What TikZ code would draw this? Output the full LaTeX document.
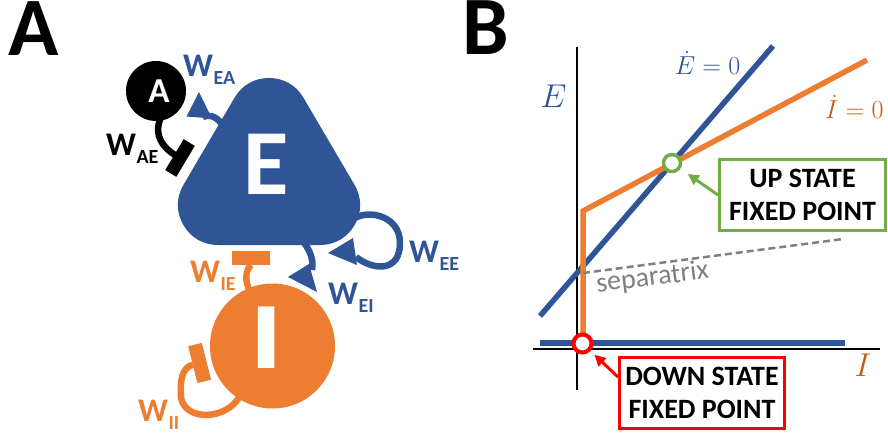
\RequirePackage{fix-cm}
\documentclass[tikz,border=0pt]{standalone}
\usepackage[no-math]{fontspec}
\setmainfont{Carlito}
\usetikzlibrary{arrows.meta}
\definecolor{eblue}{HTML}{2F5597}
\definecolor{iorange}{HTML}{ED7D31}
\definecolor{itext}{HTML}{C55A11}
\definecolor{upgreen}{HTML}{70AD47}
\definecolor{sepgray}{HTML}{7F7F7F}
\pgfdeclarelayer{back}
\pgfsetlayers{back,main}
% weight label: W with a lowered subscript
\newcommand\wlabel[1]{{\fontsize{33}{33}\selectfont W}\kern0.5pt\raisebox{-8pt}{\fontsize{20}{20}\selectfont #1}}
\begin{document}
\begin{tikzpicture}[x=1pt,y=-1pt,
  conn/.style={line width=6.5pt},
  wtag/.style={anchor=base west, inner sep=0pt, font=\bfseries},
  panel/.style={anchor=base west, inner sep=0pt, font=\fontsize{83}{83}\selectfont\bfseries},
  cellname/.style={inner sep=0pt, text=white},
  axisline/.style={line width=1.6pt},
  nullcline/.style={line width=5.5pt},
  fixpt/.style={circle, draw, fill=white, inner sep=0pt},
  fpbox/.style={draw, line width=3pt, fill=white, align=center, inner sep=0pt,
    font=\fontsize{28}{33}\selectfont\bfseries},
  pointer/.style={line width=3pt, -{Triangle[length=11pt,width=11pt]}}
]
\useasboundingbox (0,0) rectangle (888,436);

% ---------------- panel A ----------------
\node[panel] (labA) at (8,56) {A};

% excitatory population: rounded triangle
\filldraw[eblue, line width=80pt, line join=round] (218,205) -- (269,118) -- (320,205) -- cycle;
\coordinate (E) at (269,168);
\node[cellname, font=\fontsize{93}{93}\selectfont\bfseries] (Etxt) at (266,164.5) {E};

% input population A and inhibitory population I
\node[circle, fill=black, minimum size=60pt, inner sep=0pt] (A) at (156,91) {};
\node[cellname, font=\fontsize{35}{35}\selectfont\bfseries] (Atxt) at (159,91) {A};
\node[circle, fill=iorange, minimum size=125pt, inner sep=0pt] (I) at (272.5,346) {};
\node[cellname, font=\fontsize{95}{95}\selectfont\bfseries] (Itxt) at (267,338) {\scalebox{1.35}[1]{I}};

% weight labels
\node[wtag, text=eblue] (wea) at (183,76) {\wlabel{EA}};
\node[wtag] (wae) at (106,155) {\wlabel{AE}};
\node[wtag, text=eblue] (wee) at (409,262) {\wlabel{EE}};
\node[wtag, text=eblue] (wei) at (328,304) {\wlabel{EI}};
\node[wtag, text=iorange] (wie) at (190,282) {\wlabel{IE}};
\node[wtag, text=iorange] (wii) at (138,421) {\wlabel{II}};

% connection end points
\coordinate (eaFrom) at (223,125);
\coordinate (eaEnd) at (203,117);
\coordinate (aeEnd) at (175,155);
\coordinate (eeFrom) at (350,222);
\coordinate (eeEnd) at (356,257);
\coordinate (eiFrom) at (302,240);
\coordinate (eiEnd) at (312,270);
\coordinate (ieEnd) at (251,265);
\coordinate (iiEnd) at (193,364.7);

\begin{pgfonlayer}{back}
  % A -> E (excitatory)
  \draw[eblue, conn] (eaFrom) .. controls (214,114) and (208,115) .. (eaEnd);
  \fill[eblue] (199,92) -- (186.5,116.5) -- (212,118.5) -- cycle;
  % A -| E (inhibitory bar)
  \draw[black, conn] ([yshift=4pt]A.-80) .. controls (152,136) and (165,149) .. (aeEnd);
  \fill[black] (194.8,145.9) -- (183.7,139.2) -- (165.2,170.1) -- (176.3,176.8) -- cycle;
  % E -> E self loop
  \draw[eblue, conn] (eeFrom) .. controls (362,208) and (400,213) .. (400,243)
        .. controls (400,272) and (374,271) .. (eeEnd);
  \fill[eblue] (328,253) -- (353,238) -- (357,265) -- cycle;
  % E -> I
  \draw[eblue, conn] (eiFrom) .. controls (310,250) and (314,260) .. (eiEnd);
  \fill[eblue] (288,277) -- (309,264) -- (317,292) -- cycle;
  % I -| E
  \draw[iorange, conn] ([yshift=-4pt]I.111) .. controls (244,280) and (246,270) .. (ieEnd);
  \fill[iorange] (232,250.5) rectangle (270,265);
  % I -| I self loop
  \draw[iorange, conn] ([shift={(3pt,3pt)}]I.236) .. controls (228,420) and (186,422) .. (181,398)
        .. controls (180,382) and (181.2,367.6) .. (iiEnd);
  \fill[iorange] (188.2,346.3) -- (201.8,342.9) -- (211.0,379.7) -- (197.4,383.1) -- cycle;
\end{pgfonlayer}

% ---------------- panel B ----------------
\node[panel] (labB) at (462,55) {B};

\coordinate (vTop) at (577,47);
\coordinate (vBot) at (577,390);
\coordinate (hLeft) at (533,349);
\coordinate (hRight) at (880,349);
\draw[axisline] (vTop) -- (vBot);
\draw[axisline] (hLeft) -- (hRight);

% E nullcline (two branches)
\coordinate (eLowL) at (540,343);
\coordinate (eLowR) at (845,343);
\coordinate (eDiagL) at (540,316);
\coordinate (eDiagR) at (773,46);
\draw[eblue, nullcline] (eLowL) -- (eLowR);
\draw[eblue, nullcline] (eDiagL) -- (eDiagR);

% I nullcline
\coordinate (iBase) at (583,343);
\coordinate (iKnee) at (583,211);
\coordinate (iEnd) at (867,60);
\draw[iorange, nullcline, line join=miter] (iBase) -- (iKnee) -- (iEnd);

% separatrix
\coordinate (sepL) at (583,273);
\coordinate (sepR) at (843,239);
\draw[sepgray, line width=2.5pt, dash pattern=on 7pt off 4pt] (sepL) -- (sepR);
\node[text=sepgray, rotate=7, inner sep=0pt, font=\fontsize{28}{28}\selectfont] (septxt) at (652.5,278) {separatrix};

% axis and nullcline labels
\node[text=eblue, inner sep=0pt, font=\fontsize{33}{33}\selectfont] (Eax) at (553.5,96) {$E$};
\node[text=itext, inner sep=0pt, font=\fontsize{33}{33}\selectfont] (Iax) at (863,365) {$I$};
\node[text=eblue, inner sep=0pt, font=\fontsize{26}{26}\selectfont] (Edot) at (707.5,63) {$\dot{E}=0$};
\node[text=itext, inner sep=0pt, anchor=west, font=\fontsize{26}{26}\selectfont] (Idot) at (825,107) {$\dot{I}=0$};

% fixed points
\node[fixpt, draw=upgreen, line width=3.5pt, minimum size=17pt] (upfp) at (672,163) {};
\node[fixpt, draw=red, line width=4pt, minimum size=18pt] (downfp) at (582.5,343.5) {};

% annotation boxes
\node[fpbox, draw=upgreen, minimum width=166pt, minimum height=71pt] (upbox) at (802.5,195) {UP STATE\\FIXED POINT};
\node[fpbox, draw=red, minimum width=165pt, minimum height=71pt] (downbox) at (702,393) {DOWN STATE\\FIXED POINT};
\draw[pointer, upgreen, shorten >=9pt] (upbox.west) -- (upfp);
\draw[pointer, red, shorten >=5.5pt] ([yshift=16pt]downbox.west) -- (downfp);
\end{tikzpicture}
\end{document}
